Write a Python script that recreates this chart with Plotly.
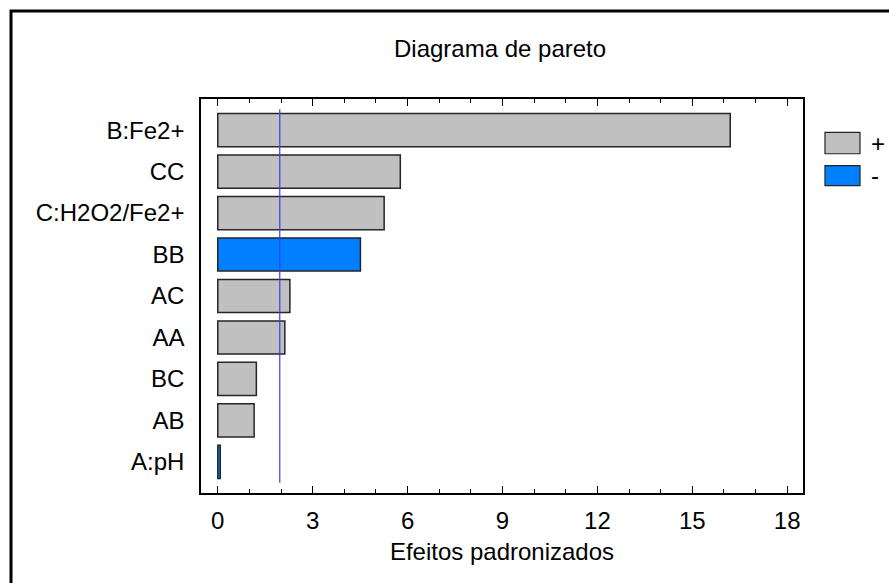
import plotly.graph_objects as go

# Standardized effects (Pareto chart), ordered from largest to smallest
effects = ["B:Fe2+", "CC", "C:H2O2/Fe2+", "BB", "AC", "AA", "BC", "AB", "A:pH"]
magnitudes = [16.2, 5.77, 5.26, 4.51, 2.28, 2.12, 1.22, 1.15, 0.08]
signs = ["+", "+", "+", "-", "+", "+", "+", "+", "-"]
critical_value = 1.96
x_ticks = [0, 3, 6, 9, 12, 15, 18]

POS_COLOR = "#C0C0C0"
NEG_COLOR = "#0080FF"
FONT = "Liberation Sans, Arial, sans-serif"
FS = 24

colors = [POS_COLOR if s == "+" else NEG_COLOR for s in signs]

fig = go.Figure()
fig.add_trace(go.Bar(
    x=magnitudes,
    y=effects,
    orientation="h",
    width=0.8,
    marker=dict(color=colors, line=dict(color="#262626", width=1.5)),
    showlegend=False,
    hoverinfo="x+y",
))

# Critical value reference line
fig.add_shape(type="line", xref="x", yref="y",
              x0=critical_value, x1=critical_value, y0=-0.5, y1=8.5,
              line=dict(color="#3a3aff", width=1.2))

# Legend swatches for the sign of each effect
legend_items = [("+", POS_COLOR, 0.9155, 0.861), ("-", NEG_COLOR, 0.8307, 0.7799)]
for label, col, ytop, ybot in legend_items:
    fig.add_shape(type="rect", xref="paper", yref="paper",
                  x0=1.0365, x1=1.0947, y0=ybot, y1=ytop,
                  fillcolor=col, line=dict(color="#262626", width=1.2))
    fig.add_annotation(xref="paper", yref="paper", x=1.11, y=(ytop + ybot) / 2,
                       text=label, showarrow=False, xanchor="left", yanchor="middle",
                       font=dict(family=FONT, size=FS, color="black"))

# Outer frame around the whole chart
fig.add_shape(type="rect", xref="paper", yref="paper",
              x0=-0.3156, x1=1.2, y0=-0.3, y1=1.2234,
              line=dict(color="black", width=3), fillcolor="rgba(0,0,0,0)")

fig.update_layout(
    width=889, height=583, autosize=False,
    margin=dict(l=201, r=86, t=99, b=90),
    paper_bgcolor="white", plot_bgcolor="white",
    font=dict(family=FONT, size=FS, color="black"),
    title=dict(text="Diagrama de pareto", x=0.5625, xanchor="center",
               y=1 - 49 / 583, yanchor="middle",
               font=dict(family=FONT, size=FS, color="black")),
)

fig.update_xaxes(
    range=[-0.53, 18.5],
    tickvals=x_ticks, ticktext=[str(v) for v in x_ticks],
    ticks="inside", ticklen=7, tickwidth=1.3, tickcolor="black",
    minor=dict(dtick=1, tick0=0, ticks="inside", ticklen=4, tickwidth=1.2, tickcolor="black"),
    showline=True, linecolor="black", linewidth=1.5, mirror="ticks",
    showgrid=False, zeroline=False,
    tickfont=dict(family=FONT, size=FS),
    ticklabelstandoff=5,
    title=dict(text="Efeitos padronizados", font=dict(family=FONT, size=FS), standoff=11),
)
fig.update_yaxes(
    categoryorder="array", categoryarray=effects,
    range=[8.75, -0.75],
    ticks="", showline=True, linecolor="black", linewidth=1.5, mirror=True,
    showgrid=False, zeroline=False,
    tickfont=dict(family=FONT, size=FS),
    ticklabelstandoff=10,
)

fig.write_html("out.html")
